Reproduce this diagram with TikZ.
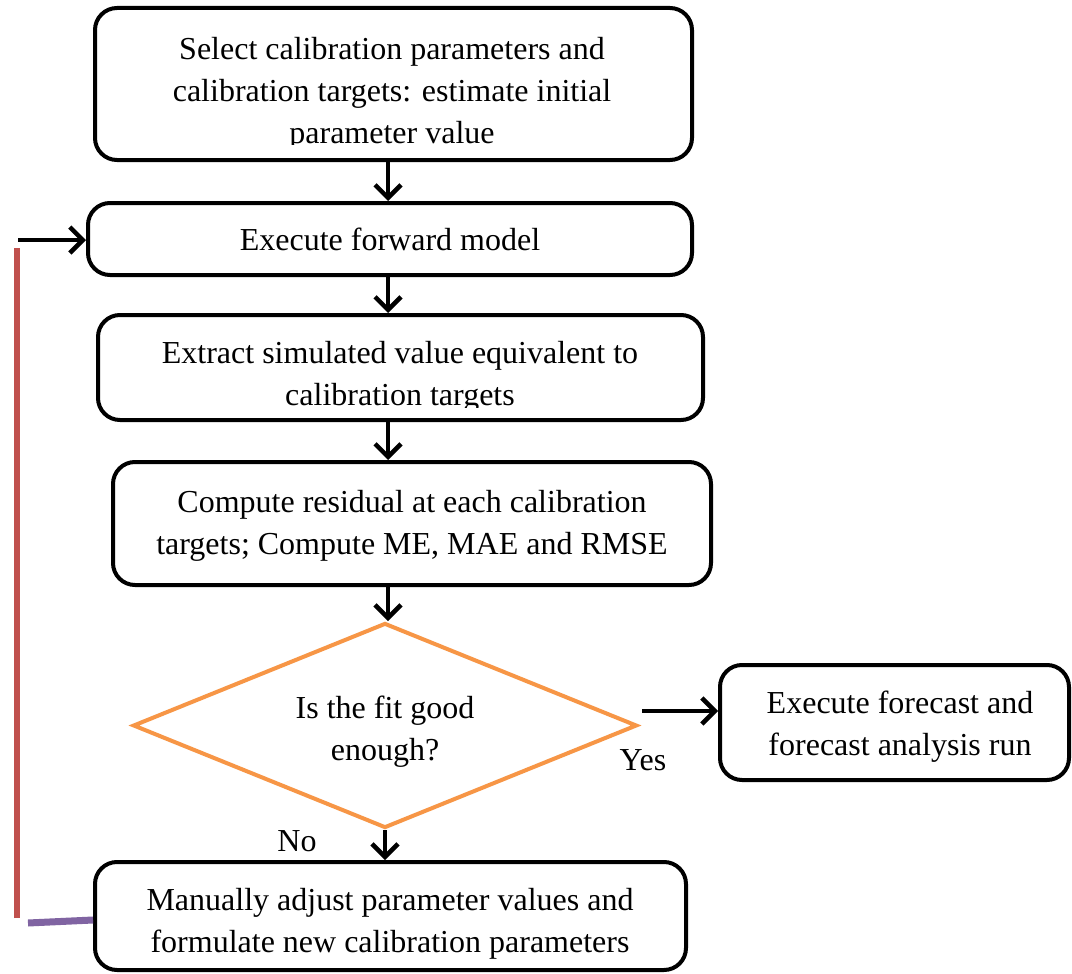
\documentclass[tikz,border=0pt]{standalone}
\usepackage{fontspec}
\setmainfont{Liberation Serif}
\usetikzlibrary{arrows.meta,shapes.geometric}
\definecolor{diaorange}{HTML}{F79646}
\definecolor{loopred}{HTML}{C0504D}
\definecolor{looppurple}{HTML}{8064A2}
\tikzset{
  box/.style={draw=black, line width=4pt, rounded corners=22pt, rectangle, inner sep=0pt},
  txt/.style={align=center, font=\fontsize{32}{42}\selectfont, inner sep=0pt},
  arr/.style={line width=4pt, -{Straight Barb[length=13pt,width=26pt,line width=4.5pt]}},
}
\begin{document}
\begin{tikzpicture}[x=1pt,y=-1pt]
\useasboundingbox[fill=white] (0,0) rectangle (1072,974);
% boxes
\node[box, minimum width=597pt, minimum height=152pt] (b1) at (393.5,84) {};
\node[box, minimum width=604pt, minimum height=72pt] (b2) at (390,239) {};
\node[box, minimum width=605pt, minimum height=105pt] (b3) at (400.5,367.5) {};
\node[box, minimum width=598pt, minimum height=123pt] (b4) at (412,523.5) {};
\node[draw=diaorange, line width=4pt, diamond, minimum width=504pt, minimum height=205pt, inner sep=0pt] (d) at (385,725.5) {};
\node[box, minimum width=349pt, minimum height=115pt] (b6) at (894.5,722.5) {};
\node[box, minimum width=591pt, minimum height=108pt] (b7) at (390.5,916) {};
% texts
\begin{scope}
\clip (95,8) rectangle (692,144);
\node[txt] (t1) at (392,94) {Select calibration parameters and\\calibration targets: estimate initial\\parameter value};
\end{scope}
\node[txt] (t2) at (390,239) {Execute forward model};
\begin{scope}
\clip (98,315) rectangle (703,407);
\node[txt] (t3) at (400,377) {Extract simulated value equivalent to\\calibration targets};
\end{scope}
\node[txt] (t4) at (412,526) {Compute residual at each calibration\\targets; Compute ME, MAE and RMSE};
\node[txt] (t5) at (385,732) {Is the fit good\\enough?};
\node[txt] (t6) at (900,727) {Execute forecast and\\forecast analysis run};
\node[txt] (t7) at (390,924) {Manually adjust parameter values and\\formulate new calibration parameters};
\node[txt, anchor=base] (yes) at (643,770) {Yes};
\node[txt, anchor=base] (no) at (297,851) {No};
% connectors
\draw[arr] (b1.south -| 388,0) -- (b2.north -| 388,0);
\draw[arr] (b2.south -| 388,0) -- (b3.north -| 388,0);
\draw[arr] (b3.south -| 388,0) -- (b4.north -| 388,0);
\draw[arr] (b4.south -| 388,0) -- (d.north -| 388,0);
\draw[arr] (d.south) -- (b7.north -| d.south);
\coordinate (yesstart) at (642,711);
\draw[arr] (yesstart) -- (b6.west |- yesstart);
% loop back
\coordinate (loopbot) at (17,918);
\coordinate (looptop) at (17,248);
\coordinate (inleft) at (18,240);
\draw[line width=6pt, loopred] (loopbot) -- (looptop);
\draw[line width=7pt, looppurple] (28,923) -- (b7.west |- 0,920);
\draw[arr] (inleft) -- (b2.west |- inleft);
\end{tikzpicture}
\end{document}
